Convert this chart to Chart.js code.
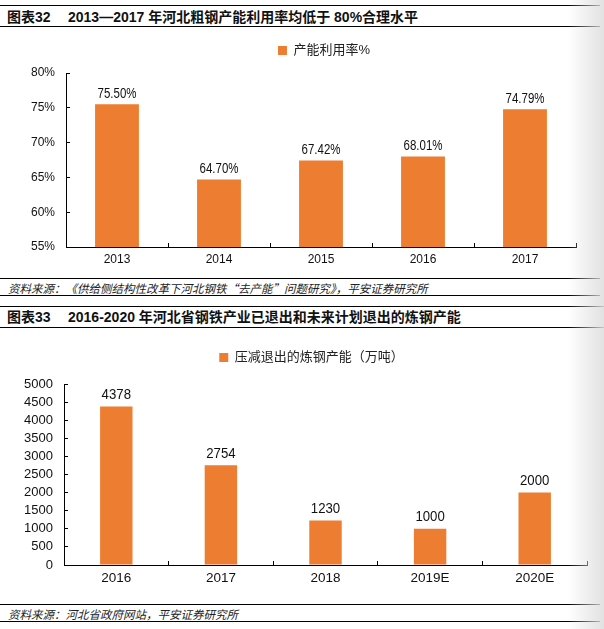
<!DOCTYPE html>
<html>
<head>
<meta charset="utf-8">
<script src="https://cdn.jsdelivr.net/npm/chart.js@4/dist/chart.umd.min.js"></script>
<style>
  html, body { margin: 0; padding: 0; background: #fff; }
  body { width: 604px; height: 629px; position: relative; overflow: hidden;
         font-family: "Liberation Sans", Arial, "Noto Sans CJK SC", sans-serif; }
  .hl { position: absolute; left: 0; height: 1px; background: #000; }
  .title { position: absolute; left: 7px; font-weight: bold; font-size: 14px; color: #111; white-space: nowrap; line-height: 16px; }
  .title .num { display: inline-block; width: 61px; }
  .src { position: absolute; left: 8px; font-style: italic; font-size: 11.5px; color: #222; white-space: nowrap; line-height: 14px;
         font-family: "Noto Sans CJK SC", sans-serif; }
  .shade { position: absolute; right: 0; top: 0; width: 36px; height: 629px;
           background: linear-gradient(to right, rgba(225,225,225,0), rgba(222,222,222,0.9)); pointer-events: none; }
  canvas { position: absolute; left: 0; }
</style>
</head>
<body>
<div class="hl" style="top:5px;width:600px"></div>
<div class="title" style="top:9px"><span class="num">图表32</span>2013—2017 年河北粗钢产能利用率均低于 80%合理水平</div>
<div class="hl" style="top:26px;width:600px"></div>

<div id="w1" style="position:absolute;left:0;top:34px;width:604px;height:240px"><canvas id="c1"></canvas></div>

<div class="hl" style="top:278px;width:600px"></div>
<div class="src" style="top:281px">资料来源：《供给侧结构性改革下河北钢铁“去产能”问题研究》，平安证券研究所</div>
<div class="hl" style="top:295px;width:600px"></div>

<div class="hl" style="top:306px;width:604px"></div>
<div class="title" style="top:309px"><span class="num">图表33</span>2016-2020 年河北省钢铁产业已退出和未来计划退出的炼钢产能</div>
<div class="hl" style="top:327px;width:604px"></div>

<div id="w2" style="position:absolute;left:0;top:330px;width:604px;height:270px"><canvas id="c2"></canvas></div>

<div class="hl" style="top:604px;width:600px"></div>
<div class="src" style="top:607px">资料来源：河北省政府网站，平安证券研究所</div>
<div class="hl" style="top:621px;width:600px"></div>

<div class="shade"></div>

<script>
// ---- data ----
const years1 = ["2013", "2014", "2015", "2016", "2017"];
const utilization = [75.50, 64.70, 67.42, 68.01, 74.79];
const series1Name = "产能利用率%";

const years2 = ["2016", "2017", "2018", "2019E", "2020E"];
const capacityCut = [4378, 2754, 1230, 1000, 2000];
const series2Name = "压减退出的炼钢产能（万吨）";

const ORANGE = "#ED7D31";
const FONT = '"Liberation Sans", Arial, "Noto Sans CJK SC", sans-serif';

const valueLabels = {
  id: 'valueLabels',
  afterDatasetsDraw(chart, args, opts) {
    const ctx = chart.ctx;
    ctx.save();
    ctx.font = opts.size + 'px ' + FONT;
    ctx.fillStyle = '#111';
    ctx.textAlign = 'center';
    ctx.textBaseline = 'bottom';
    chart.getDatasetMeta(0).data.forEach((el, i) => {
      const v = chart.data.datasets[0].data[i];
      ctx.save();
      ctx.translate(el.x, el.y - opts.offset);
      ctx.scale(opts.sx, 1);
      ctx.fillText(opts.fmt(v), 0, 0);
      ctx.restore();
    });
    ctx.restore();
  }
};

const legendShift = {
  id: 'legendShift',
  afterLayout(chart, args, opts) {
    const lg = chart.legend;
    if (!lg) return;
    lg.left += opts.dx; lg.right += opts.dx;
    lg.top += opts.dy; lg.bottom += opts.dy;
    if (lg.legendHitBoxes) lg.legendHitBoxes.forEach(b => { b.left += opts.dx; b.top += opts.dy; });
  }
};

function makeChart(id, labels, data, name, yOpts, o) {
  return new Chart(document.getElementById(id), {
    type: 'bar',
    data: { labels: labels, datasets: [{ label: name, data: data, backgroundColor: ORANGE,
      categoryPercentage: 1, barPercentage: o.barPct }] },
    options: {
      responsive: true, maintainAspectRatio: false, animation: false,
      layout: { padding: { left: 0, right: o.padRight, top: o.padTop, bottom: 0 } },
      plugins: {
        legend: { position: 'top', labels: { boxWidth: 9, boxHeight: 9, padding: 10, color: '#222',
          font: { family: FONT, size: 13 } } },
        tooltip: { enabled: false },
        valueLabels: { size: o.labelSize, offset: o.labelOffset, fmt: o.fmt, sx: o.labelSx },
        legendShift: { dx: o.lgDx, dy: o.lgDy }
      },
      scales: {
        x: {
          grid: { display: true, drawOnChartArea: false, offset: true, tickLength: -4, color: '#000' },
          border: { display: true, color: '#000', width: 1 },
          ticks: { color: '#111', padding: o.xPad, font: { family: FONT, size: o.xSize } },
          afterFit(s) { s.height = o.xHeight; }
        },
        y: Object.assign({
          grid: { display: true, drawOnChartArea: false, tickLength: -4, color: '#000' },
          border: { display: true, color: '#000', width: 1 },
          afterFit(s) { s.width = o.yWidth; }
        }, yOpts)
      }
    },
    plugins: [valueLabels, legendShift]
  });
}

makeChart('c1', years1, utilization, series1Name, {
  min: 55, max: 80,
  ticks: { stepSize: 5, autoSkip: false, color: '#111', padding: 15, font: { family: FONT, size: 12 },
           callback: v => v + '%' }
}, { barPct: 0.43, padRight: 28, padTop: 6, labelSize: 14, labelOffset: 3, labelSx: 0.82,
     fmt: v => v.toFixed(2) + '%', xSize: 12, xPad: 9, xHeight: 27, yWidth: 66, lgDx: 36, lgDy: -6 });

makeChart('c2', years2, capacityCut, series2Name, {
  min: 0, max: 5000,
  ticks: { stepSize: 500, autoSkip: false, color: '#111', padding: 15, font: { family: FONT, size: 13 },
           callback: v => String(v) }
}, { barPct: 0.31, padRight: 17, padTop: 21, labelSize: 15, labelOffset: 4, labelSx: 0.88,
     fmt: v => String(v), xSize: 13.5, xPad: 9, xHeight: 35, yWidth: 64, lgDx: 18, lgDy: -10 });
</script>
</body>
</html>
